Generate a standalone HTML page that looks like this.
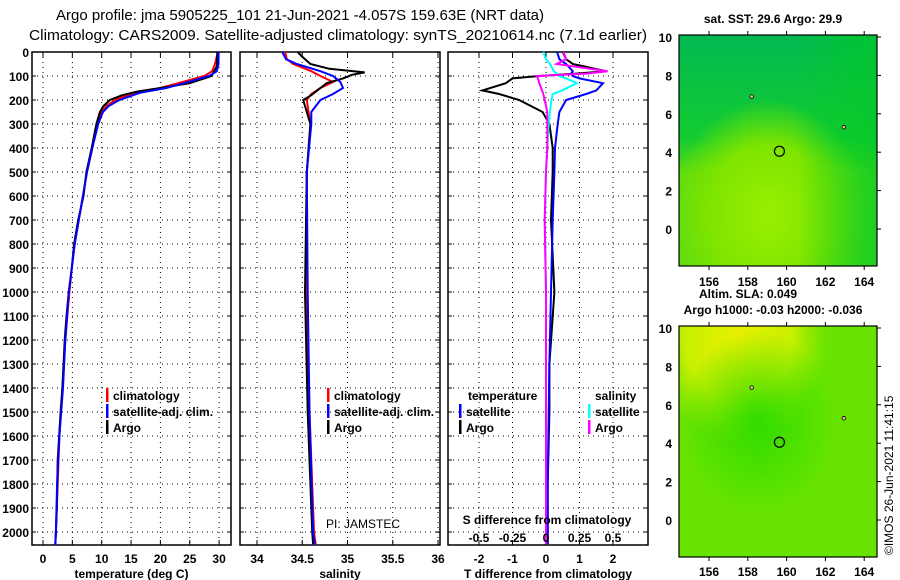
<!DOCTYPE html>
<html><head><meta charset="utf-8"><style>
html,body{margin:0;padding:0;background:#fff;}
svg{display:block;font-family:"Liberation Sans",sans-serif;}
.t{font-weight:bold;font-size:12px;}
</style></head><body>
<svg id="c" width="900" height="580" xmlns="http://www.w3.org/2000/svg">
<defs>
<radialGradient id="sstY" cx="0.45" cy="0.78" r="0.5"><stop offset="0" stop-color="#9af000"/><stop offset="0.6" stop-color="#7ee400"/><stop offset="1" stop-color="#7ee400" stop-opacity="0"/></radialGradient>
<linearGradient id="sstG" x1="0" y1="0" x2="0" y2="1"><stop offset="0" stop-color="#00b850"/><stop offset="0.45" stop-color="#14cc30"/><stop offset="0.6" stop-color="#5edc10"/><stop offset="1" stop-color="#60dc10"/></linearGradient>
<linearGradient id="sstR" x1="0" y1="0" x2="1" y2="0"><stop offset="0.6" stop-color="#00cc20" stop-opacity="0"/><stop offset="1" stop-color="#00c828" stop-opacity="0.7"/></linearGradient>
<radialGradient id="slaY" cx="0.3" cy="0.05" r="0.45"><stop offset="0" stop-color="#e8f000"/><stop offset="0.6" stop-color="#c8f000"/><stop offset="1" stop-color="#b0ec00" stop-opacity="0"/></radialGradient>
<radialGradient id="slaG" cx="0.4" cy="0.42" r="0.4"><stop offset="0" stop-color="#30dc00"/><stop offset="1" stop-color="#30dc00" stop-opacity="0"/></radialGradient>
</defs>
<text x="300" y="20" text-anchor="middle" font-size="15" textLength="488" lengthAdjust="spacingAndGlyphs">Argo profile: jma 5905225_101 21-Jun-2021 -4.057S 159.63E (NRT data)</text>
<text x="338" y="40" text-anchor="middle" font-size="15" textLength="618" lengthAdjust="spacingAndGlyphs">Climatology: CARS2009. Satellite-adjusted climatology: synTS_20210614.nc (7.1d earlier)</text>
<g id="plots"></g>
<g id="maps"></g>
</svg>
<script>
// ---- data ----
const depthTicks=[0,100,200,300,400,500,600,700,800,900,1000,1100,1200,1300,1400,1500,1600,1700,1800,1900,2000];
const tempTicks=[0,5,10,15,20,25,30];
const salTicks=[34,34.5,35,35.5,36];
const tdiffTicks=[-2,-1,0,1,2];
const sdiffTicks=[-0.5,-0.25,0,0.25,0.5];
const latTicks=[0,2,4,6,8,10];
const lonTicks=[156,158,160,162,164];

const tDepthArgo=[0,60,100,130,150,165,180,200,225,250,300,400,500,600,700,800,900,1000,1100,1200,1400,1500,1700,1900,2000,2050];
const tArgo=[29.7,29.6,28.7,25,20,16,13.5,11.4,10.3,9.7,9.1,8.3,7.4,6.9,6.0,5.3,4.9,4.4,4.0,3.7,3.3,3.0,2.5,2.35,2.2,2.1];
const tDepthClim=[0,50,80,100,130,150,170,200,225,250,300,400,500,600,700,800,900,1000,1200,1400,1600,1800,2000,2055];
const tClim=[29.8,29.3,28.8,27.5,23,20,15.5,12.3,10.8,10.0,9.2,8.4,7.5,6.8,6.1,5.4,4.9,4.5,3.8,3.3,2.8,2.5,2.2,2.1];
const tSat=[29.9,29.9,29.6,28.3,24,21,16.5,13,11.2,10.2,9.4,8.4,7.5,6.8,6.1,5.4,4.9,4.4,3.8,3.4,2.8,2.4,2.2,2.1];

const sDepthArgo=[0,20,50,70,85,95,110,130,150,180,200,250,300,500,1000,1500,2000,2050];
const sArgo=[34.45,34.5,34.59,34.8,35.19,35.05,34.95,34.77,34.7,34.6,34.51,34.55,34.59,34.55,34.53,34.56,34.61,34.62];
const sDepthClim=[0,30,50,80,100,125,150,175,200,250,300,500,1000,1500,2000,2055];
const sClim=[34.31,34.33,34.4,34.6,34.7,34.84,34.7,34.6,34.55,34.57,34.59,34.55,34.55,34.58,34.63,34.65];
const sSat=[34.28,34.32,34.44,34.7,34.84,34.92,34.95,34.84,34.7,34.6,34.6,34.55,34.56,34.58,34.62,34.64];

const dDepth=[0,30,50,80,90,100,110,130,160,175,200,250,300,400,500,700,1000,1300,1500,1800,2050];
const dTArgo=[0.5,0.6,0.8,1.8,0.9,-0.2,-1.0,-1.2,-1.9,-1.4,-0.8,-0.1,0.1,0.2,0.2,0.15,0.25,0.1,0.1,0.05,0.05];
const dTSat=[0.33,0.4,0.6,0.8,0.75,0.8,1.0,1.7,1.5,1.2,0.6,0.4,0.35,0.27,0.25,0.2,0.15,0.1,0.08,0.05,0.05];
const dSSat=[-0.02,0.0,0.03,0.06,0.08,0.1,0.15,0.23,0.12,0.05,0.04,0.03,0.02,0.01,0.0,-0.01,0.0,0.0,0.0,0.0,0.0];
const dSArgo=[0.13,0.15,0.08,0.46,0.3,-0.07,-0.06,-0.05,-0.03,-0.02,-0.01,0.01,0.01,0.01,0.0,-0.01,0.0,0.0,0.0,0.0,0.0];

const floatLon=159.63, floatLat=4.05;

// ---- scales ----
const NS="http://www.w3.org/2000/svg";
const Y0=52, YB=545;
const yD=d=>Y0+d*0.24;
const xT=t=>43+t*5.87;
const xS=s=>257+(s-34)*90.5;
const xDT=t=>546+t*33.5;
const xDS=s=>546+s*134;
function mk(tag,attrs,parent){const e=document.createElementNS(NS,tag);for(const k in attrs)e.setAttribute(k,attrs[k]);parent.appendChild(e);return e;}
const plots=document.getElementById('plots');

function panel(name,L,R,xticks,xf,labels,title){
  const g=mk('g',{},plots);
  
  
  depthTicks.forEach(d=>{ if(d>0) mk('line',{x1:L,x2:R,y1:yD(d),y2:yD(d),stroke:'#000','stroke-dasharray':'1,4','stroke-width':1},g);
    mk('line',{x1:L,x2:L+4,y1:yD(d),y2:yD(d),stroke:'#000'},g);mk('line',{x1:R-4,x2:R,y1:yD(d),y2:yD(d),stroke:'#000'},g);});
  xticks.forEach((v,i)=>{const x=xf(v);
    mk('line',{x1:x,x2:x,y1:Y0,y2:YB,stroke:'#000','stroke-dasharray':'1,4'},g);
    mk('line',{x1:x,x2:x,y1:Y0,y2:Y0+5,stroke:'#000'},g);mk('line',{x1:x,x2:x,y1:YB-5,y2:YB,stroke:'#000'},g);
    const t=mk('text',{x:x,y:563,'text-anchor':'middle','class':'t'},g);t.textContent=labels[i];
    
    
  });
  mk('rect',{x:L,y:Y0,width:R-L,height:YB-Y0,fill:'none',stroke:'#000','stroke-width':1.5},g);
  const tt=mk('text',{x:(L+R)/2,y:578,'text-anchor':'middle','class':'t'},g);tt.textContent=title;
  
  
  return g;
}
function line(g,xs,ds,xf,col,name){
  let p='';xs.forEach((v,i)=>{p+=(i?'L':'M')+xf(v).toFixed(1)+','+yD(ds[i]).toFixed(1);});
  const e=mk('path',{d:p,fill:'none',stroke:col,'stroke-width':2},g);
  
  
}
// y labels
depthTicks.forEach(d=>{const t=mk('text',{x:29,y:yD(d)+5,'text-anchor':'end','class':'t'},plots);t.textContent=d;
  
  });

const g1=panel('temperature-panel',32,231,tempTicks,xT,tempTicks.map(String),'temperature (deg C)');
line(g1,tClim,tDepthClim,xT,'#f00','temp-climatology-line');
line(g1,tArgo,tDepthArgo,xT,'#000','temp-argo-line');
line(g1,tSat,tDepthClim,xT,'#00f','temp-satellite-line');
const g2=panel('salinity-panel',240,440,salTicks,xS,salTicks.map(String),'salinity');
line(g2,sClim,sDepthClim,xS,'#f00','sal-climatology-line');
line(g2,sArgo,sDepthArgo,xS,'#000','sal-argo-line');
line(g2,sSat,sDepthClim,xS,'#00f','sal-satellite-line');
const g3=panel('difference-panel',448,648,tdiffTicks,xDT,tdiffTicks.map(String),'T difference from climatology');
line(g3,dTArgo,dDepth,xDT,'#000','tdiff-argo-line');
line(g3,dTSat,dDepth,xDT,'#00f','tdiff-satellite-line');
line(g3,dSSat,dDepth,xDS,'#0ff','sdiff-satellite-line');
line(g3,dSArgo,dDepth,xDS,'#f0f','sdiff-argo-line');
sdiffTicks.forEach(v=>{const t=mk('text',{x:xDS(v),y:542,'text-anchor':'middle','class':'t'},g3);t.textContent=(v===0?'0':String(v));
  
  });
const sd=mk('text',{x:547,y:524,'text-anchor':'middle','class':'t'},g3);sd.textContent='S difference from climatology';



function leg(x,y,col,txt,name){
  mk('rect',{x:x-1,y:y-12,width:2.5,height:14,fill:col},plots);
  const t=mk('text',{x:x+6,y:y,'class':'t'},plots);t.textContent=txt;
  
  
}
leg(107,400,'#f00','climatology','legend-climatology');
leg(107,416,'#00f','satellite-adj. clim.','legend-satellite-adj');
leg(107,432,'#000','Argo','legend-argo');
leg(328,400,'#f00','climatology','legend-climatology-2');
leg(328,416,'#00f','satellite-adj. clim.','legend-satellite-adj-2');
leg(328,432,'#000','Argo','legend-argo-2');
{const t=mk('text',{x:468,y:400,'class':'t'},plots);t.textContent='temperature';

}
{const t=mk('text',{x:595,y:400,'class':'t'},plots);t.textContent='salinity';

}
leg(460,416,'#00f','satellite','legend-t-satellite');
leg(460,432,'#000','Argo','legend-t-argo');
leg(589,416,'#0ff','satellite','legend-s-satellite');
leg(589,432,'#f0f','Argo','legend-s-argo');
{const t=mk('text',{x:326,y:528,'font-size':12},plots);t.textContent='PI: JAMSTEC';

}

// ---- maps ----
const maps=document.getElementById('maps');
const mxL=679,mxR=877;
const xLon=l=>709+(l-156)*19.4;
function map(name,top,lat10,bottom,fills,titleTxt,titleY,showLonLabels,lonY){
  const g=mk('g',{},maps);
  
  
  const yLat=la=>lat10+(10-la)*19.2;
  fills.forEach(f=>mk('rect',{x:mxL,y:top,width:mxR-mxL,height:bottom-top,fill:f},g));
  mk('rect',{x:mxL,y:top,width:mxR-mxL,height:bottom-top,fill:'none',stroke:'#000','stroke-width':1.2},g);
  latTicks.forEach(la=>{const y=yLat(la);
    mk('line',{x1:mxR,x2:mxR+4,y1:y,y2:y,stroke:'#000'},g);
    const t=mk('text',{x:672,y:y+5,'text-anchor':'end','class':'t','font-size':13},g);t.textContent=la;
    
    });
  lonTicks.forEach(lo=>{const x=xLon(lo);
    mk('line',{x1:x,x2:x,y1:top-4,y2:top,stroke:'#000'},g);
    mk('line',{x1:x,x2:x,y1:bottom,y2:bottom+4,stroke:'#000'},g);
    if(showLonLabels){const t=mk('text',{x:x,y:lonY,'text-anchor':'middle','class':'t','font-size':13},g);t.textContent=lo;
      
      }});
  const c=mk('circle',{cx:xLon(floatLon),cy:yLat(floatLat),r:5,fill:'none',stroke:'#000','stroke-width':1.2},g);
  
  
  [[158.2,6.9],[162.95,5.3]].forEach(p=>mk('circle',{cx:xLon(p[0]),cy:yLat(p[1]),r:1.8,fill:'#f0c0a0',stroke:'#000','stroke-width':0.8},g));
  const t=mk('text',{x:773,y:titleY,'text-anchor':'middle','class':'t'},g);t.textContent=titleTxt;
  
  
}
map('sst-map',35,37,266,['url(#sstG)','url(#sstY)','url(#sstR)'],'sat. SST: 29.6 Argo: 29.9',23,true,286);
map('sla-map',326,328,557,['#68e400','url(#slaY)','url(#slaG)'],'Argo h1000: -0.03 h2000: -0.036',314,true,576);
{const t=mk('text',{x:748,y:298,'text-anchor':'middle','class':'t'},maps);t.textContent='Altim. SLA: 0.049';

}
{const t=mk('text',{x:0,y:0,'font-size':12,transform:'translate(893,555) rotate(-90)'},maps);t.textContent='©IMOS 26-Jun-2021 11:41:15';

}
</script>
</body></html>
